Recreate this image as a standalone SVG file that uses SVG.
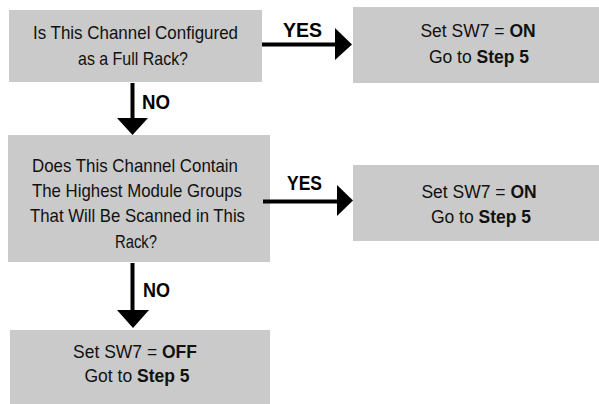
<svg xmlns="http://www.w3.org/2000/svg" width="599" height="404" viewBox="0 0 599 404">
<style>
.box{fill:#cacaca;stroke:none}
.t{font-family:"Liberation Sans",Arial,sans-serif;font-size:19px;fill:#111}
.m{font-family:"Liberation Sans",Arial,sans-serif;font-size:17.5px;fill:#111;text-anchor:middle}
.b{font-weight:bold}
.lab{font-family:"Liberation Sans",Arial,sans-serif;font-size:20px;font-weight:bold;fill:#000}
.ln{stroke:#000;stroke-width:4;fill:none}
.ah{fill:#000}
</style>
<rect width="599" height="404" fill="#fff"/>
<g id="q1">
<rect class="box" x="9" y="10" width="253" height="72"/>
<text class="t" x="33" y="39" textLength="205" lengthAdjust="spacingAndGlyphs">Is This Channel Configured</text>
<text class="t" x="78" y="65" textLength="110" lengthAdjust="spacingAndGlyphs">as a Full Rack?</text>
</g>
<g id="r1">
<rect class="box" x="353" y="7" width="246" height="76"/>
<text class="m" x="478" y="37">Set SW7 = <tspan class="b">ON</tspan></text>
<text class="m" x="479" y="63">Go to <tspan class="b">Step 5</tspan></text>
</g>
<g id="q2">
<rect class="box" x="8" y="135" width="262" height="127"/>
<text class="t" x="32" y="172" textLength="206" lengthAdjust="spacingAndGlyphs">Does This Channel Contain</text>
<text class="t" x="32" y="197" textLength="210" lengthAdjust="spacingAndGlyphs">The Highest Module Groups</text>
<text class="t" x="30" y="222" textLength="215" lengthAdjust="spacingAndGlyphs">That Will Be Scanned in This</text>
<text class="t" x="115" y="248" textLength="42" lengthAdjust="spacingAndGlyphs">Rack?</text>
</g>
<g id="r2">
<rect class="box" x="353" y="165" width="246" height="76"/>
<text class="m" x="479" y="198">Set SW7 = <tspan class="b">ON</tspan></text>
<text class="m" x="481" y="223">Go to <tspan class="b">Step 5</tspan></text>
</g>
<g id="r3">
<rect class="box" x="10" y="330" width="260" height="74"/>
<text class="m" x="135" y="358">Set SW7 = <tspan class="b">OFF</tspan></text>
<text class="m" x="137" y="382">Got to <tspan class="b">Step 5</tspan></text>
</g>
<g id="connectors">
<line class="ln" x1="262" y1="44.5" x2="337" y2="44.5"/>
<polygon class="ah" points="335,28 352,44.5 335,60"/>
<text class="lab" x="283" y="37" textLength="39" lengthAdjust="spacingAndGlyphs">YES</text>
<line class="ln" x1="263" y1="201.5" x2="339" y2="201.5"/>
<polygon class="ah" points="337,185 353,200.5 337,216"/>
<text class="lab" x="287" y="190" textLength="35" lengthAdjust="spacingAndGlyphs">YES</text>
<line class="ln" x1="132.5" y1="83" x2="132.5" y2="120"/>
<polygon class="ah" points="117,118 148,118 132.5,135"/>
<text class="lab" x="142" y="109" textLength="28" lengthAdjust="spacingAndGlyphs">NO</text>
<line class="ln" x1="132.5" y1="263" x2="132.5" y2="312"/>
<polygon class="ah" points="117,310 149,310 133,328"/>
<text class="lab" x="143" y="297" textLength="27" lengthAdjust="spacingAndGlyphs">NO</text>
</g>
</svg>
